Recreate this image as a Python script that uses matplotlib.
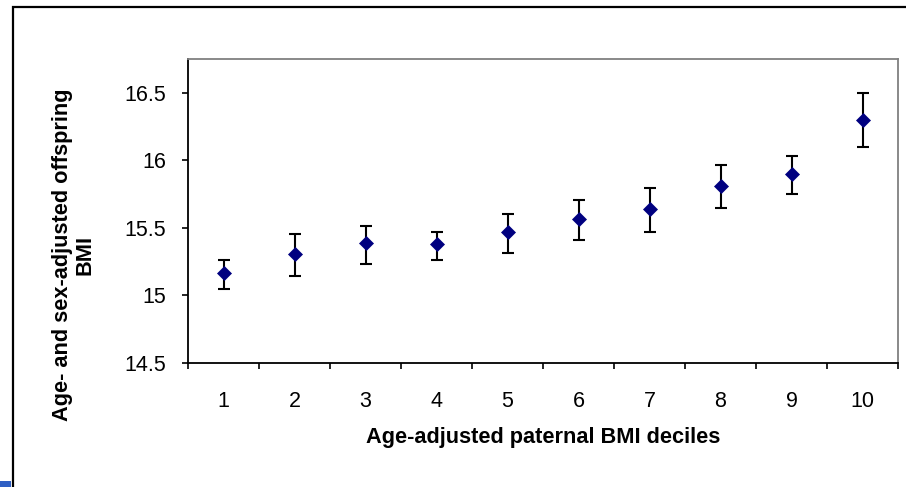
import matplotlib
matplotlib.use("Agg")
import matplotlib.pyplot as plt
from matplotlib.patches import Rectangle
import numpy as np

deciles = ["1", "2", "3", "4", "5", "6", "7", "8", "9", "10"]
bmi_mean = [15.165, 15.31, 15.386, 15.379, 15.467, 15.568, 15.64, 15.812, 15.90, 16.30]
ci_upper = [15.263, 15.455, 15.516, 15.47, 15.603, 15.706, 15.795, 15.965, 16.03, 16.50]
ci_lower = [15.044, 15.147, 15.236, 15.265, 15.312, 15.411, 15.472, 15.647, 15.75, 16.10]
y_ticks = [14.5, 15.0, 15.5, 16.0, 16.5]
y_tick_labels = ["14.5", "15", "15.5", "16", "16.5"]

plt.rcParams['font.family'] = ['Liberation Sans', 'DejaVu Sans']

W, H = 906, 487
fig = plt.figure(figsize=(W / 100, H / 100), dpi=100)
fig.patch.set_facecolor("white")

# outer frame (extends beyond the right and bottom edges)
top = 1 - 7 / H
fig.patches.append(Rectangle((13 / W, -0.2), 1.2, top + 0.2, transform=fig.transFigure,
                             fill=False, edgecolor="black", linewidth=1.6))
fig.patches.append(Rectangle((0, 0), 11 / W, 6.5 / H, transform=fig.transFigure,
                             facecolor="#2f5fc4", edgecolor="none"))

ax = fig.add_axes([188 / W, 1 - 363 / H, (898 - 188) / W, (363 - 59) / H])

x = np.arange(1, len(deciles) + 1)
mean = np.array(bmi_mean)
yerr = np.vstack([mean - np.array(ci_lower), np.array(ci_upper) - mean])
ax.errorbar(x, mean, yerr=yerr, fmt="none", ecolor="black", elinewidth=1.5,
            capsize=4.3, capthick=1.5, zorder=2)
ax.plot(x, mean, linestyle="none", marker="D", markersize=7.4, color="#000080",
        markeredgecolor="#000080", markeredgewidth=0.5, zorder=3)

ax.set_xlim(0.5, len(deciles) + 0.5)
ax.set_ylim(14.5, 16.75)
ax.set_xticks(x)
ax.set_xticklabels(deciles)
ax.set_xticks(np.arange(0.5, len(deciles) + 1.0, 1.0), minor=True)
ax.tick_params(axis="x", which="major", length=0, pad=20, labelsize=15.5)
ax.tick_params(axis="x", which="minor", length=4, width=1.2, direction="out")
ax.set_yticks(y_ticks)
ax.set_yticklabels(y_tick_labels)
ax.tick_params(axis="y", which="major", length=4, width=1.2, direction="out", pad=12, labelsize=15.5)

for s in ["left", "bottom"]:
    ax.spines[s].set_color("black")
    ax.spines[s].set_linewidth(1.3)
for s in ["top", "right"]:
    ax.spines[s].set_color("#808080")
    ax.spines[s].set_linewidth(1.3)

fig.text(543 / W, 1 - 437 / H, "Age-adjusted paternal BMI deciles", ha="center", va="center",
         fontsize=15.7, fontweight="bold")
fig.text(74 / W, 1 - 255 / H, "Age- and sex-adjusted offspring\nBMI", ha="center", va="center",
         rotation=90, multialignment="center", fontsize=15.7, fontweight="bold", linespacing=1.1)

fig.savefig("out.png", dpi=100, facecolor="white")
